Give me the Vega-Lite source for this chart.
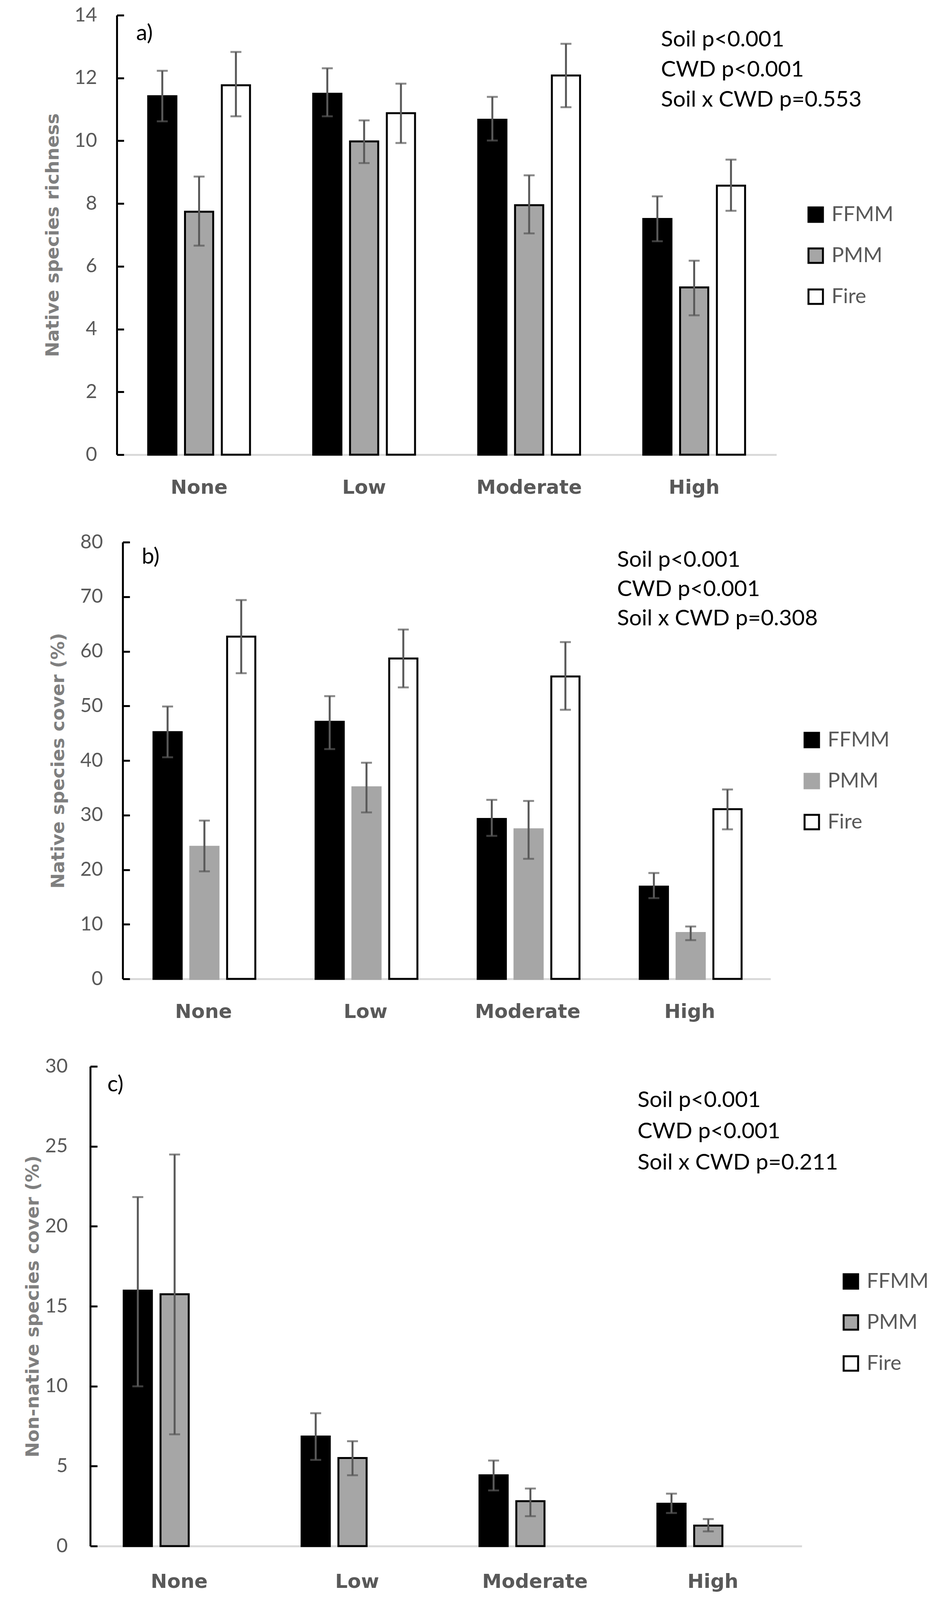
{
  "$schema": "https://vega.github.io/schema/vega-lite/v6.json",
  "background": "white",
  "padding": {"left": 60, "top": 14, "right": 0, "bottom": 8},
  "config": {
    "view": {"stroke": null},
    "font": "Lato",
    "axisX": {
      "domainColor": "#d9d9d9",
      "domainWidth": 5,
      "ticks": false,
      "labelFont": "DejaVu Sans",
      "labelFontWeight": "bold",
      "labelFontSize": 50,
      "labelColor": "#595959",
      "labelPadding": 59,
      "labelAngle": 0,
      "labelLimit": 0
    },
    "axisY": {
      "grid": false,
      "domainColor": "black",
      "domainWidth": 5,
      "tickColor": "black",
      "tickWidth": 5,
      "tickSize": -18,
      "labelFont": "Lato",
      "labelFontSize": 50,
      "labelColor": "#595959",
      "labelPadding": 69,
      "format": "d",
      "titleFont": "DejaVu Sans",
      "titleFontWeight": "bold",
      "titleFontSize": 47,
      "titleColor": "#7f7f7f"
    },
    "legend": {
      "symbolType": "square",
      "symbolSize": 1369,
      "symbolStrokeWidth": 5,
      "labelFont": "Lato",
      "labelFontSize": 53,
      "labelColor": "#595959",
      "labelOffset": 14,
      "rowPadding": 48,
      "padding": 0
    }
  },
  "data": {
    "values": [
      {"panel": "a", "cwd": "None", "soil": "FFMM", "mean": 11.42, "lo": 10.62, "hi": 12.23},
      {"panel": "a", "cwd": "None", "soil": "PMM", "mean": 7.74, "lo": 6.66, "hi": 8.86},
      {"panel": "a", "cwd": "None", "soil": "Fire", "mean": 11.77, "lo": 10.78, "hi": 12.83},
      {"panel": "a", "cwd": "Low", "soil": "FFMM", "mean": 11.5, "lo": 10.78, "hi": 12.31},
      {"panel": "a", "cwd": "Low", "soil": "PMM", "mean": 9.98, "lo": 9.29, "hi": 10.65},
      {"panel": "a", "cwd": "Low", "soil": "Fire", "mean": 10.88, "lo": 9.93, "hi": 11.82},
      {"panel": "a", "cwd": "Moderate", "soil": "FFMM", "mean": 10.67, "lo": 10.01, "hi": 11.4},
      {"panel": "a", "cwd": "Moderate", "soil": "PMM", "mean": 7.95, "lo": 7.05, "hi": 8.9},
      {"panel": "a", "cwd": "Moderate", "soil": "Fire", "mean": 12.08, "lo": 11.07, "hi": 13.09},
      {"panel": "a", "cwd": "High", "soil": "FFMM", "mean": 7.51, "lo": 6.8, "hi": 8.23},
      {"panel": "a", "cwd": "High", "soil": "PMM", "mean": 5.33, "lo": 4.44, "hi": 6.18},
      {"panel": "a", "cwd": "High", "soil": "Fire", "mean": 8.57, "lo": 7.77, "hi": 9.4},
      {"panel": "b", "cwd": "None", "soil": "FFMM", "mean": 45.2, "lo": 40.6, "hi": 49.9},
      {"panel": "b", "cwd": "None", "soil": "PMM", "mean": 24.2, "lo": 19.7, "hi": 29.0},
      {"panel": "b", "cwd": "None", "soil": "Fire", "mean": 62.7, "lo": 56.0, "hi": 69.4},
      {"panel": "b", "cwd": "Low", "soil": "FFMM", "mean": 47.1, "lo": 42.1, "hi": 51.8},
      {"panel": "b", "cwd": "Low", "soil": "PMM", "mean": 35.1, "lo": 30.5, "hi": 39.6},
      {"panel": "b", "cwd": "Low", "soil": "Fire", "mean": 58.7, "lo": 53.4, "hi": 64.0},
      {"panel": "b", "cwd": "Moderate", "soil": "FFMM", "mean": 29.3, "lo": 26.2, "hi": 32.8},
      {"panel": "b", "cwd": "Moderate", "soil": "PMM", "mean": 27.4, "lo": 22.0, "hi": 32.6},
      {"panel": "b", "cwd": "Moderate", "soil": "Fire", "mean": 55.4, "lo": 49.3, "hi": 61.7},
      {"panel": "b", "cwd": "High", "soil": "FFMM", "mean": 16.9, "lo": 14.8, "hi": 19.4},
      {"panel": "b", "cwd": "High", "soil": "PMM", "mean": 8.4, "lo": 7.1, "hi": 9.6},
      {"panel": "b", "cwd": "High", "soil": "Fire", "mean": 31.1, "lo": 27.4, "hi": 34.7},
      {"panel": "c", "cwd": "None", "soil": "FFMM", "mean": 15.98, "lo": 9.99, "hi": 21.83},
      {"panel": "c", "cwd": "None", "soil": "PMM", "mean": 15.75, "lo": 6.99, "hi": 24.49},
      {"panel": "c", "cwd": "Low", "soil": "FFMM", "mean": 6.85, "lo": 5.39, "hi": 8.31},
      {"panel": "c", "cwd": "Low", "soil": "PMM", "mean": 5.51, "lo": 4.43, "hi": 6.56},
      {"panel": "c", "cwd": "Moderate", "soil": "FFMM", "mean": 4.43, "lo": 3.48, "hi": 5.35},
      {"panel": "c", "cwd": "Moderate", "soil": "PMM", "mean": 2.81, "lo": 1.87, "hi": 3.6},
      {"panel": "c", "cwd": "High", "soil": "FFMM", "mean": 2.65, "lo": 2.07, "hi": 3.28},
      {"panel": "c", "cwd": "High", "soil": "PMM", "mean": 1.28, "lo": 0.92, "hi": 1.69}
    ]
  },
  "columns": 1,
  "align": "none",
  "spacing": 90,
  "resolve": {"scale": {"fill": "independent", "stroke": "independent"}},
  "concat": [
    {
      "width": 1756,
      "height": 1125,
      "transform": [{"filter": "datum.panel === 'a'"}],
      "encoding": {
        "x": {
          "field": "cwd",
          "type": "nominal",
          "title": null,
          "scale": {"domain": ["None", "Low", "Moderate", "High"], "range": [68, 1756], "paddingInner": 0.383, "paddingOuter": 0.19}
        }
      },
      "layer": [
        {
          "mark": {"type": "bar", "strokeWidth": 5},
          "encoding": {
            "xOffset": {"field": "soil", "type": "nominal", "scale": {"domain": ["FFMM", "PMM", "Fire"], "paddingInner": 0.234, "paddingOuter": 0}},
            "y": {
              "field": "mean",
              "type": "quantitative",
              "title": "Native species richness",
              "scale": {"domain": [0, 14], "nice": false},
              "axis": {"values": [0, 2, 4, 6, 8, 10, 12, 14], "offset": -68, "minExtent": 100, "maxExtent": 100, "titlePadding": 40}
            },
            "fill": {
              "field": "soil",
              "type": "nominal",
              "scale": {"domain": ["FFMM", "PMM", "Fire"], "range": ["#000000", "#a6a6a6", "#ffffff"]},
              "legend": {"orient": "none", "legendX": 1830, "legendY": 484, "title": null}
            },
            "stroke": {
              "field": "soil",
              "type": "nominal",
              "scale": {"domain": ["FFMM", "PMM", "Fire"], "range": ["#000000", "#000000", "#000000"]},
              "legend": {"orient": "none", "legendX": 1830, "legendY": 484, "title": null}
            }
          }
        },
        {
          "mark": {"type": "rule", "color": "#595959", "strokeWidth": 5},
          "encoding": {
            "xOffset": {"field": "soil", "type": "nominal"},
            "y": {"field": "lo", "type": "quantitative", "title": "Native species richness"},
            "y2": {"field": "hi"}
          }
        },
        {
          "mark": {"type": "tick", "orient": "horizontal", "size": 28, "thickness": 5, "color": "#595959"},
          "encoding": {
            "xOffset": {"field": "soil", "type": "nominal"},
            "y": {"field": "lo", "type": "quantitative", "title": "Native species richness"}
          }
        },
        {
          "mark": {"type": "tick", "orient": "horizontal", "size": 28, "thickness": 5, "color": "#595959"},
          "encoding": {
            "xOffset": {"field": "soil", "type": "nominal"},
            "y": {"field": "hi", "type": "quantitative", "title": "Native species richness"}
          }
        },
        {
          "data": {"values": [{}]},
          "mark": {"type": "text", "text": "a)", "fontSize": 57, "align": "left", "baseline": "alphabetic", "dx": -161, "color": "black"},
          "encoding": {"x": {"datum": "None"}, "y": {"datum": 13.2}}
        },
        {
          "data": {"values": [{}]},
          "mark": {"type": "text", "text": ["Soil p<0.001", "CWD p<0.001", "Soil x CWD p=0.553"], "lineHeight": 77, "fontSize": 57, "align": "left", "baseline": "alphabetic", "dx": -85, "color": "black"},
          "encoding": {"x": {"datum": "High"}, "y": {"datum": 13.0}}
        }
      ]
    },
    {
      "width": 1741,
      "height": 1118,
      "transform": [{"filter": "datum.panel === 'b'"}],
      "encoding": {
        "x": {
          "field": "cwd",
          "type": "nominal",
          "title": null,
          "scale": {"domain": ["None", "Low", "Moderate", "High"], "range": [83, 1741], "paddingInner": 0.383, "paddingOuter": 0.19}
        }
      },
      "layer": [
        {
          "mark": {"type": "bar", "strokeWidth": 5},
          "encoding": {
            "xOffset": {"field": "soil", "type": "nominal", "scale": {"domain": ["FFMM", "PMM", "Fire"], "paddingInner": 0.234, "paddingOuter": 0}},
            "y": {
              "field": "mean",
              "type": "quantitative",
              "title": "Native species cover (%)",
              "scale": {"domain": [0, 80], "nice": false},
              "axis": {"values": [0, 10, 20, 30, 40, 50, 60, 70, 80], "offset": -83, "minExtent": 100, "maxExtent": 100, "titlePadding": 41}
            },
            "fill": {
              "field": "soil",
              "type": "nominal",
              "scale": {"domain": ["FFMM", "PMM", "Fire"], "range": ["#000000", "#a6a6a6", "#ffffff"]},
              "legend": {"orient": "none", "legendX": 1820, "legendY": 480, "title": null}
            },
            "stroke": {
              "field": "soil",
              "type": "nominal",
              "scale": {"domain": ["FFMM", "PMM", "Fire"], "range": ["#000000", "#a6a6a6", "#000000"]},
              "legend": {"orient": "none", "legendX": 1820, "legendY": 480, "title": null}
            }
          }
        },
        {
          "mark": {"type": "rule", "color": "#595959", "strokeWidth": 5},
          "encoding": {
            "xOffset": {"field": "soil", "type": "nominal"},
            "y": {"field": "lo", "type": "quantitative", "title": "Native species cover (%)"},
            "y2": {"field": "hi"}
          }
        },
        {
          "mark": {"type": "tick", "orient": "horizontal", "size": 28, "thickness": 5, "color": "#595959"},
          "encoding": {
            "xOffset": {"field": "soil", "type": "nominal"},
            "y": {"field": "lo", "type": "quantitative", "title": "Native species cover (%)"}
          }
        },
        {
          "mark": {"type": "tick", "orient": "horizontal", "size": 28, "thickness": 5, "color": "#595959"},
          "encoding": {
            "xOffset": {"field": "soil", "type": "nominal"},
            "y": {"field": "hi", "type": "quantitative", "title": "Native species cover (%)"}
          }
        },
        {
          "data": {"values": [{}]},
          "mark": {"type": "text", "text": "b)", "fontSize": 57, "align": "left", "baseline": "alphabetic", "dx": -158, "color": "black"},
          "encoding": {"x": {"datum": "None"}, "y": {"datum": 76.1}}
        },
        {
          "data": {"values": [{}]},
          "mark": {"type": "text", "text": ["Soil p<0.001", "CWD p<0.001", "Soil x CWD p=0.308"], "lineHeight": 75, "fontSize": 57, "align": "left", "baseline": "alphabetic", "dx": -186, "color": "black"},
          "encoding": {"x": {"datum": "High"}, "y": {"datum": 75.5}}
        }
      ]
    },
    {
      "width": 1821,
      "height": 1228,
      "transform": [{"filter": "datum.panel === 'c'"}],
      "encoding": {
        "x": {
          "field": "cwd",
          "type": "nominal",
          "title": null,
          "scale": {"domain": ["None", "Low", "Moderate", "High"], "paddingInner": 0.376, "paddingOuter": 0.188},
          "axis": {"labelPadding": 66}
        }
      },
      "layer": [
        {
          "mark": {"type": "bar", "strokeWidth": 5},
          "encoding": {
            "xOffset": {"field": "soil", "type": "nominal", "scale": {"domain": ["FFMM", "PMM", "Fire"], "paddingInner": 0.2, "paddingOuter": 0}},
            "y": {
              "field": "mean",
              "type": "quantitative",
              "title": "Non-native species cover (%)",
              "scale": {"domain": [0, 30], "nice": false},
              "axis": {"values": [0, 5, 10, 15, 20, 25, 30], "minExtent": 116, "maxExtent": 116, "titlePadding": 7, "labelPadding": 76}
            },
            "fill": {
              "field": "soil",
              "type": "nominal",
              "scale": {"domain": ["FFMM", "PMM", "Fire"], "range": ["#000000", "#a6a6a6", "#ffffff"]},
              "legend": {"orient": "none", "legendX": 1920, "legendY": 524, "title": null}
            },
            "stroke": {
              "field": "soil",
              "type": "nominal",
              "scale": {"domain": ["FFMM", "PMM", "Fire"], "range": ["#000000", "#000000", "#000000"]},
              "legend": {"orient": "none", "legendX": 1920, "legendY": 524, "title": null}
            }
          }
        },
        {
          "mark": {"type": "rule", "color": "#595959", "strokeWidth": 5},
          "encoding": {
            "xOffset": {"field": "soil", "type": "nominal"},
            "y": {"field": "lo", "type": "quantitative", "title": "Non-native species cover (%)"},
            "y2": {"field": "hi"}
          }
        },
        {
          "mark": {"type": "tick", "orient": "horizontal", "size": 28, "thickness": 5, "color": "#595959"},
          "encoding": {
            "xOffset": {"field": "soil", "type": "nominal"},
            "y": {"field": "lo", "type": "quantitative", "title": "Non-native species cover (%)"}
          }
        },
        {
          "mark": {"type": "tick", "orient": "horizontal", "size": 28, "thickness": 5, "color": "#595959"},
          "encoding": {
            "xOffset": {"field": "soil", "type": "nominal"},
            "y": {"field": "hi", "type": "quantitative", "title": "Non-native species cover (%)"}
          }
        },
        {
          "data": {"values": [{}]},
          "mark": {"type": "text", "text": "c)", "fontSize": 57, "align": "left", "baseline": "alphabetic", "dx": -184, "color": "black"},
          "encoding": {"x": {"datum": "None"}, "y": {"datum": 28.44}}
        },
        {
          "data": {"values": [{}]},
          "mark": {"type": "text", "text": ["Soil p<0.001", "CWD p<0.001", "Soil x CWD p=0.211"], "lineHeight": 80, "fontSize": 57, "align": "left", "baseline": "alphabetic", "dx": -193, "color": "black"},
          "encoding": {"x": {"datum": "High"}, "y": {"datum": 27.46}}
        }
      ]
    }
  ]
}
